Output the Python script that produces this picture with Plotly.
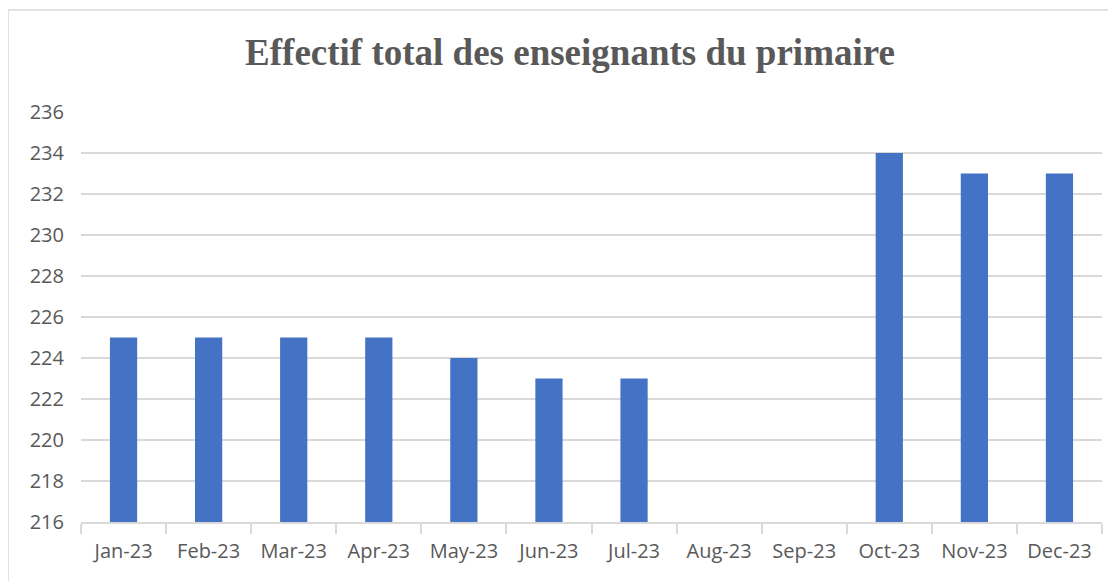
import plotly.graph_objects as go

months = ['Jan-23', 'Feb-23', 'Mar-23', 'Apr-23', 'May-23', 'Jun-23',
          'Jul-23', 'Aug-23', 'Sep-23', 'Oct-23', 'Nov-23', 'Dec-23']
effectif = [225, 225, 225, 225, 224, 223, 223, None, None, 234, 233, 233]
y_ticks = list(range(216, 237, 2))

fig = go.Figure()
fig.add_trace(go.Bar(
    x=months, y=effectif,
    marker=dict(color='#4472C4', line_width=0),
    width=0.32,
))

# page body has an 8px margin, so the figure sits at (8, 8) in the window
W, H = 1100, 573
plot_l, plot_r, plot_t, plot_b = 73, 1094, 104, 514
pw, ph = plot_r - plot_l, plot_b - plot_t

fig.update_layout(
    width=W, height=H,
    margin=dict(l=plot_l, r=W - plot_r, t=plot_t, b=H - plot_b),
    paper_bgcolor='white', plot_bgcolor='white',
    showlegend=False,
    title=dict(text='<b>Effectif total des enseignants du primaire</b>',
               x=562 / W, xanchor='center', y=1 - 44 / H, yanchor='middle',
               font=dict(family='Liberation Serif', size=37, color='#595959')),
    font=dict(family='Open Sans', size=19, color='#595959'),
    xaxis=dict(
        type='category',
        showline=True, linecolor='#D9D9D9', linewidth=1.5,
        ticks='outside', tickson='boundaries', ticklen=10,
        tickcolor='#D9D9D9', tickwidth=1.5,
        showgrid=False, ticklabelstandoff=10,
        tickfont=dict(size=20, color='#595959'),
    ),
    yaxis=dict(
        range=[216, 236],
        tickvals=y_ticks,
        showgrid=True, gridcolor='#D9D9D9', gridwidth=1.5,
        zeroline=False, ticks='', ticklabelstandoff=16,
        tickfont=dict(size=20, color='#595959'),
    ),
    shapes=[dict(
        type='rect', xref='paper', yref='paper',
        x0=(0 - plot_l) / pw, x1=(W + 20 - plot_l) / pw,
        y0=(plot_b - H - 20) / ph, y1=(plot_b - 2) / ph,
        line=dict(color='#D9D9D9', width=1.5), layer='below',
    )],
)

fig.write_html("out.html")
